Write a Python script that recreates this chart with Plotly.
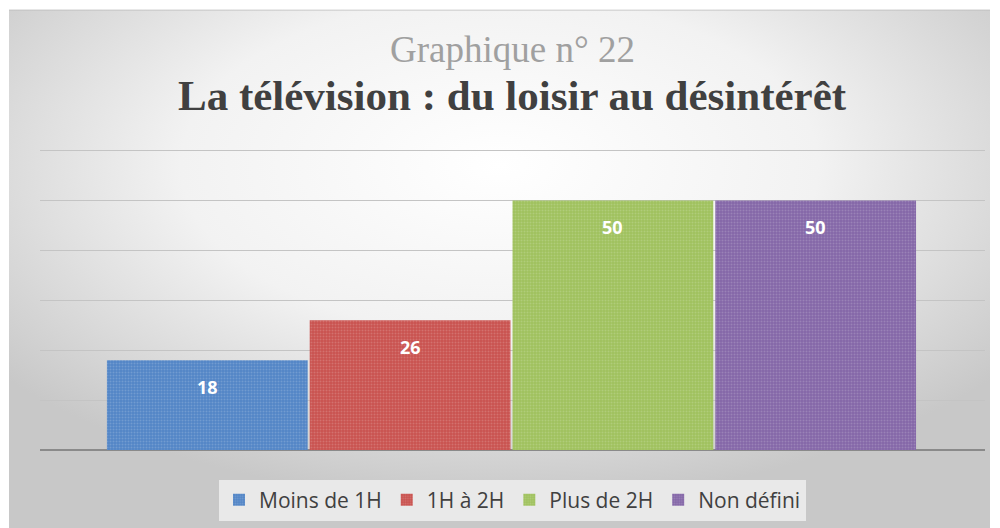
import base64
import plotly.graph_objects as go

categories = ["Moins de 1H", "1H à 2H", "Plus de 2H", "Non défini"]
values = [18, 26, 50, 50]
colors = ["#5285c6", "#c9524f", "#9fc15d", "#8467a8"]
y_ticks = [0, 10, 20, 30, 40, 50, 60]

svg = """<svg xmlns='http://www.w3.org/2000/svg' width='981' height='517' viewBox='0 0 981 517' preserveAspectRatio='none'>
<defs><radialGradient id='g' cx='0.5' cy='0.3' r='0.65' gradientUnits='objectBoundingBox'>
<stop offset='0' stop-color='#ffffff'/><stop offset='0.5' stop-color='#f2f2f2'/><stop offset='1' stop-color='#c8c8c8'/></radialGradient></defs>
<rect width='981' height='517' fill='url(#g)'/>
<line x1='0' y1='0.5' x2='981' y2='0.5' stroke='#bdbdbd' stroke-width='1'/>
</svg>"""
bg_uri = "data:image/svg+xml;base64," + base64.b64encode(svg.encode()).decode()

fig = go.Figure()
for cat, val, col in zip(categories, values, colors):
    fig.add_trace(go.Bar(
        x=[cat], y=[val], name=cat,
        marker=dict(color=col, line=dict(width=0),
                    pattern=dict(shape=".", fgcolor="rgba(255,255,255,0.35)", size=3, solidity=0.35)),
        hoverinfo="x+y",
    ))
    fig.add_annotation(x=cat, y=val, xref="x", yref="y", text=f"<b>{val}</b>",
                       showarrow=False, yshift=-27, yanchor="middle",
                       font=dict(family="Open Sans", size=18, color="white"))

fig.add_annotation(xref="paper", yref="paper", x=0.5, y=(450 - 51) / 300, yanchor="middle",
                   text="Graphique n° 22",
                   showarrow=False, font=dict(family="Liberation Serif", size=37, color="#a0a0a0"))
fig.add_annotation(xref="paper", yref="paper", x=0.5, y=(450 - 97) / 300, yanchor="middle",
                   text="<b>La télévision : du loisir au désintérêt</b>",
                   showarrow=False, font=dict(family="Liberation Serif", size=43, color="#404040"))

fig.add_layout_image(dict(source=bg_uri, xref="paper", yref="paper",
                          x=(9 - 40) / 945, y=(450 - 11) / 300, sizex=981 / 945, sizey=517 / 300,
                          xanchor="left", yanchor="top", sizing="stretch", layer="below"))

fig.update_layout(
    width=1000, height=528,
    margin=dict(l=40, r=15, t=148.5, b=78, autoexpand=False),
    paper_bgcolor="white", plot_bgcolor="rgba(0,0,0,0)",
    barmode="group", bargap=0.01,
    showlegend=True,
    legend=dict(orientation="h", x=0.5, xanchor="center", y=(450 - 500) / 300, yanchor="middle",
                bgcolor="rgba(236,236,236,0.9)", font=dict(family="Open Sans", size=21, color="#404040"),
                itemsizing="constant", traceorder="normal"),
    xaxis=dict(range=[-0.5 - 0.325, 3.5 + 0.335], showticklabels=False, showgrid=False,
               zeroline=False, showline=False, ticks=""),
    yaxis=dict(range=[0, 60.3], tickvals=y_ticks, showticklabels=False, showgrid=True,
               gridcolor="#c4c4c4", gridwidth=1, zeroline=True, zerolinecolor="#8a8a8a",
               zerolinewidth=1.5, showline=False),
)

fig.write_html("out.html", config={"displayModeBar": False},
               post_script="document.body.style.margin='0';")
